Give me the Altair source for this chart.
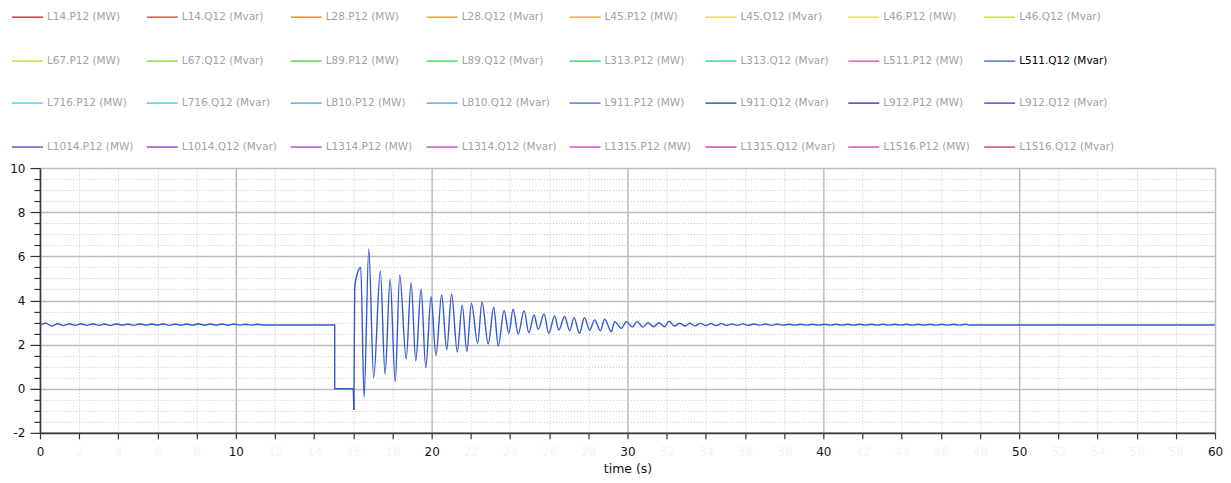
import altair as alt
import pandas as pd

# ---------------- legend content ----------------
legend_names = [
    "L14.P12 (MW)", "L14.Q12 (Mvar)", "L28.P12 (MW)", "L28.Q12 (Mvar)",
    "L45.P12 (MW)", "L45.Q12 (Mvar)", "L46.P12 (MW)", "L46.Q12 (Mvar)",
    "L67.P12 (MW)", "L67.Q12 (Mvar)", "L89.P12 (MW)", "L89.Q12 (Mvar)",
    "L313.P12 (MW)", "L313.Q12 (Mvar)", "L511.P12 (MW)", "L511.Q12 (Mvar)",
    "L716.P12 (MW)", "L716.Q12 (Mvar)", "L810.P12 (MW)", "L810.Q12 (Mvar)",
    "L911.P12 (MW)", "L911.Q12 (Mvar)", "L912.P12 (MW)", "L912.Q12 (Mvar)",
    "L1014.P12 (MW)", "L1014.Q12 (Mvar)", "L1314.P12 (MW)", "L1314.Q12 (Mvar)",
    "L1315.P12 (MW)", "L1315.Q12 (Mvar)", "L1516.P12 (MW)", "L1516.Q12 (Mvar)",
]
legend_colors = [
    "#c83c3c", "#d8593c", "#e8893c", "#e0a040",
    "#e8b43c", "#f0dc3c", "#e8e83c", "#cce03c",
    "#b4e648", "#8ee050", "#5cd44c", "#52dc5c",
    "#44d47c", "#44d8a4", "#e064a8", "#4a78c0",
    "#48e0e0", "#44dcd8", "#48b4dc", "#58ace0",
    "#4c80d4", "#3c58b0", "#4444c4", "#6848c4",
    "#7850c4", "#9450cc", "#b454d4", "#c454d8",
    "#d454d4", "#cc44c8", "#d454b4", "#c84888",
]
active_series = "L511.Q12 (Mvar)"

# ---------------- L511.Q12 (Mvar) series ----------------
# pre-fault small ripple, flat, fault step to 0, dip
t_pre = [0.0, 0.3, 0.6, 0.9, 1.2, 1.5, 1.8, 2.1, 2.4, 2.7, 3.0, 3.3, 3.6, 3.9,
         4.2, 4.5, 4.8, 5.1, 5.4, 5.7, 6.0, 6.3, 6.6, 6.9, 7.2, 7.5, 7.8, 8.1,
         8.4, 8.7, 9.0, 9.3, 9.6, 9.9, 10.2, 10.5, 10.8, 11.1, 11.4,
         15.05, 15.05, 16.0, 16.03]
v_pre = [2.88, 2.98, 2.83, 2.95, 2.86, 2.94, 2.87, 2.94, 2.87, 2.94, 2.87, 2.93, 2.86, 2.94,
         2.88, 2.93, 2.87, 2.94, 2.88, 2.93, 2.88, 2.94, 2.87, 2.93, 2.88, 2.93, 2.88, 2.94,
         2.88, 2.93, 2.88, 2.93, 2.88, 2.93, 2.88, 2.92, 2.88, 2.92, 2.89,
         2.89, 0.0, 0.0, -0.96]

# post-fault oscillation (peaks / troughs) and settling
t_osc = [16.03, 16.07, 16.2, 16.38, 16.55, 16.79, 17.04, 17.38, 17.62, 17.88,
         18.14, 18.37, 18.70, 18.95, 19.19, 19.46, 19.70, 19.97, 20.22, 20.51,
         20.77, 21.02, 21.31, 21.56, 21.80, 22.03, 22.35, 22.57, 22.89, 23.17,
         23.40, 23.70, 23.94, 24.16, 24.42, 24.72, 24.96, 25.23, 25.44, 25.74,
         25.98, 26.28, 26.49, 26.79, 27.05, 27.27, 27.55, 27.80, 28.07, 28.32,
         28.62, 28.83, 29.18, 29.34, 29.69, 29.94, 30.25, 30.49, 30.79, 31.05,
         31.33, 31.61, 31.89, 32.12, 32.40, 32.66, 32.96, 33.17,
         33.45, 33.72, 33.99, 34.26, 34.53, 34.80, 35.07, 35.34, 35.61, 35.88,
         36.15, 36.45, 36.75, 37.05, 37.35, 37.65, 37.95, 38.25, 38.55, 38.85,
         39.15, 39.45, 39.75, 40.05, 40.35, 40.65, 40.95, 41.25, 41.55, 41.85,
         42.15, 42.45, 42.75, 43.05, 43.35, 43.65, 43.95, 44.25, 44.55, 44.85,
         45.15, 45.45, 45.75, 46.05, 46.35, 46.65, 46.95, 47.25, 47.45, 60.0]
v_osc = [-0.96, 4.6, 5.2, 5.5, -0.38, 6.33, 0.5, 5.35, 0.66, 4.96,
         0.32, 5.15, 1.35, 4.81, 1.26, 4.52, 0.96, 4.17, 1.50, 4.25,
         1.76, 4.28, 1.66, 3.80, 1.68, 3.87, 2.06, 3.92, 2.03, 3.69,
         1.94, 3.54, 2.51, 3.60, 2.48, 3.54, 2.54, 3.34, 2.69, 3.39,
         2.51, 3.30, 2.66, 3.27, 2.63, 3.22, 2.51, 3.22, 2.66, 3.12,
         2.63, 3.15, 2.59, 3.04, 2.74, 3.04, 2.79, 3.04, 2.79, 2.99,
         2.81, 2.99, 2.81, 3.06, 2.84, 2.97, 2.84, 2.97,
         2.85, 2.96, 2.86, 2.95, 2.86, 2.95, 2.87, 2.94, 2.87, 2.94,
         2.87, 2.93, 2.88, 2.93, 2.88, 2.93, 2.88, 2.92, 2.88, 2.92,
         2.88, 2.92, 2.88, 2.92, 2.88, 2.92, 2.88, 2.92, 2.88, 2.92,
         2.88, 2.92, 2.88, 2.92, 2.88, 2.92, 2.88, 2.92, 2.88, 2.92,
         2.88, 2.92, 2.88, 2.92, 2.88, 2.92, 2.88, 2.92, 2.89, 2.89]

assert len(t_pre) == len(v_pre)
assert len(t_osc) == len(v_osc)
assert len(legend_names) == len(legend_colors)

# ---------------- layout / style ----------------
W, H = 1176, 265
LEG_H = 150
LINE_COLOR = "#3558cc"
FONT = "DejaVu Sans"
legend_col_x = [11, 146, 290, 426, 569, 705, 848, 984]   # page x of symbol start
legend_row_y = [17, 61, 103, 147]                        # page y of row centre

# ---------------- legend chart ----------------
leg_rows = []
for i, (n, c) in enumerate(zip(legend_names, legend_colors)):
    col, row = i % 8, i // 8
    x0 = legend_col_x[col]
    leg_rows.append({
        "name": n, "x0": x0, "x1": x0 + 31, "xt": x0 + 35,
        "y": legend_row_y[row],
        "tc": "#000000" if n == active_series else "#a2a2a2",
    })
leg_df = pd.DataFrame(leg_rows)

lx = alt.Scale(domain=[39, 39 + W], range=[0, W])
ly = alt.Scale(domain=[8, 8 + LEG_H], range=[0, LEG_H])

leg_base = alt.Chart(leg_df)
leg_sym = leg_base.mark_rule(strokeWidth=1.5).encode(
    x=alt.X("x0:Q", scale=lx, axis=None),
    x2="x1:Q",
    y=alt.Y("y:Q", scale=ly, axis=None),
    color=alt.Color("name:N", scale=alt.Scale(domain=legend_names, range=legend_colors), legend=None),
)
leg_txt = leg_base.mark_text(align="left", baseline="middle", font=FONT, fontSize=10.5).encode(
    x=alt.X("xt:Q", scale=lx, axis=None),
    y=alt.Y("y:Q", scale=ly, axis=None),
    text="name:N",
    color=alt.Color("tc:N", scale=None),
)
legend_chart = alt.layer(leg_sym, leg_txt).properties(
    width=W, height=LEG_H, view=alt.ViewConfig(stroke="transparent", strokeWidth=0)
)

# ---------------- main chart ----------------
x_major = "datum.value % 10 === 0"
y_major = "datum.value % 2 === 0"

x_axis = alt.Axis(
    values=[v for v in range(0, 61, 2)],
    labelExpr="'' + datum.value",
    labelColor={"condition": {"test": x_major, "value": "#111111"}, "value": "#f4f4f4"},
    labelFont=FONT, labelFontSize=12, labelPadding=8,
    labelFlush=False, labelOverlap=False,
    tickSize=6, tickColor="#333333", tickWidth=1.2,
    domainColor="#3a3a3a", domainWidth=1.6,
    grid=True,
    gridColor={"condition": {"test": x_major, "value": "#bdbdbd"}, "value": "#c6c6c6"},
    gridDash={"condition": {"test": x_major, "value": [1, 0]}, "value": [1, 2]},
    gridWidth={"condition": {"test": x_major, "value": 1.5}, "value": 1},
    title="time (s)", titleFont=FONT, titleFontSize=12.5, titleFontWeight="normal",
    titleColor="#111111", titlePadding=5,
)
y_axis = alt.Axis(
    values=[v / 2 for v in range(-4, 21)],
    labelExpr=y_major + " ? '' + datum.value : ''",
    labelColor="#111111",
    labelFont=FONT, labelFontSize=12, labelPadding=5,
    labelFlush=False, labelOverlap=False,
    tickSize={"condition": {"test": y_major, "value": 10}, "value": 6},
    tickColor="#333333", tickWidth=1.2,
    domainColor="#3a3a3a", domainWidth=1.6,
    grid=True,
    gridColor={"condition": {"test": y_major, "value": "#bdbdbd"}, "value": "#c6c6c6"},
    gridDash={"condition": {"test": y_major, "value": [1, 0]}, "value": [1, 2]},
    gridWidth={"condition": {"test": y_major, "value": 1.5}, "value": 1},
    title=None,
)

xs = alt.Scale(domain=[0, 60], nice=False, zero=False)
ys = alt.Scale(domain=[-2, 10], nice=False, zero=False)

df_pre = pd.DataFrame({"t": t_pre, "v": v_pre, "i": list(range(len(t_pre)))})
df_osc = pd.DataFrame({"t": t_osc, "v": v_osc, "i": list(range(len(t_osc)))})

X = alt.X("t:Q", scale=xs, axis=x_axis)
Y = alt.Y("v:Q", scale=ys, axis=y_axis)

pre_line = alt.Chart(df_pre).mark_line(
    color=LINE_COLOR, strokeWidth=1.4, interpolate="linear"
).encode(x=X, y=Y, order="i:Q")
osc_line = alt.Chart(df_osc).mark_line(
    color=LINE_COLOR, strokeWidth=1.4, interpolate="monotone"
).encode(x=X, y=Y, order="i:Q")

main_chart = alt.layer(pre_line, osc_line).properties(
    width=W, height=H, view=alt.ViewConfig(stroke="transparent", strokeWidth=0)
)

chart = alt.vconcat(legend_chart, main_chart, spacing=10, bounds="flush").properties(
    padding={"left": 1, "top": 0, "right": 0, "bottom": 0}
).configure_view(stroke="transparent", strokeWidth=0).configure(background="white")

chart.save("out.html", embed_options={"renderer": "svg", "actions": False})
